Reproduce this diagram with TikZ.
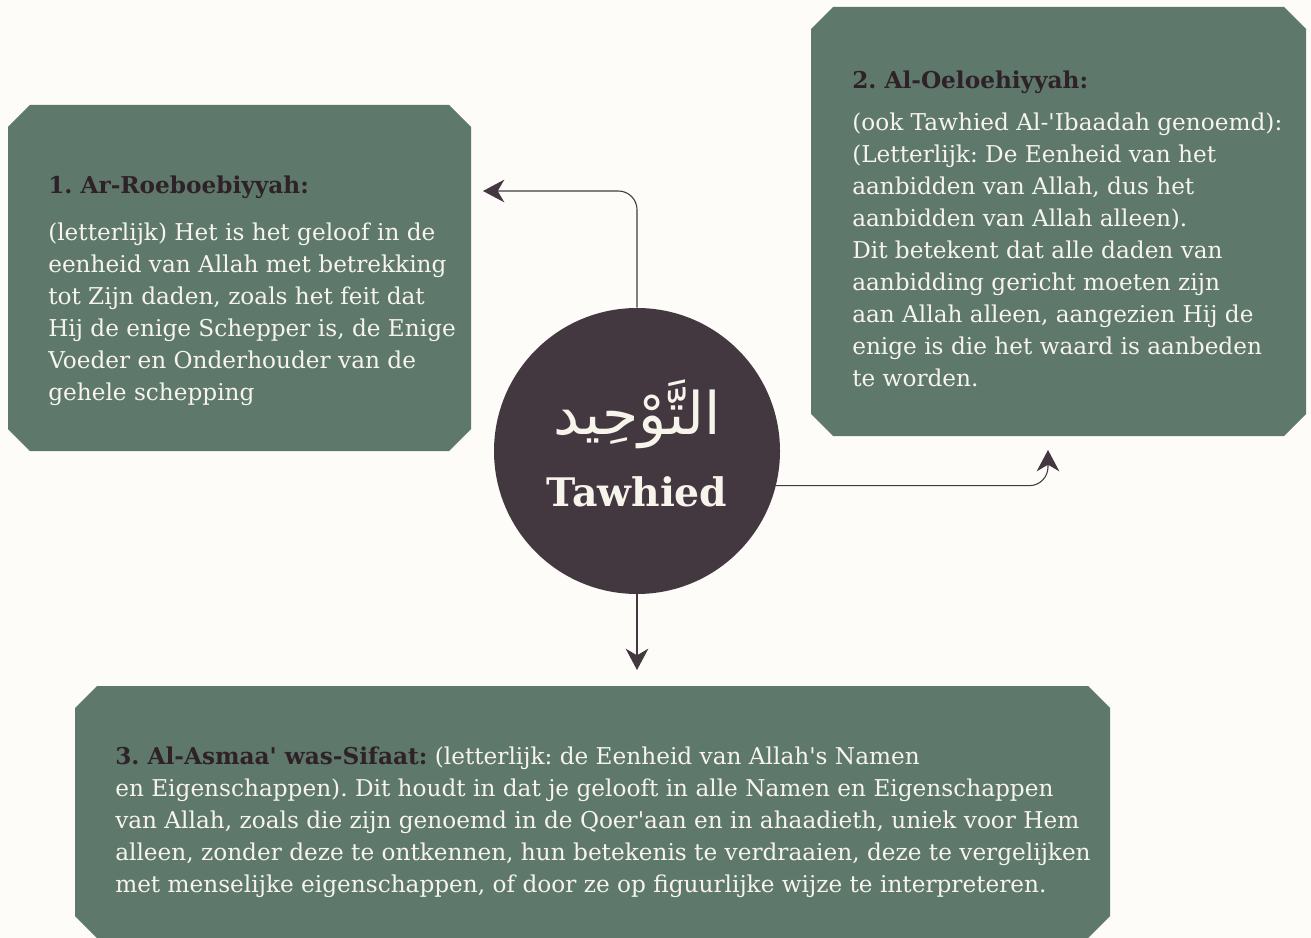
\documentclass[tikz,border=0pt]{standalone}
\usepackage{fontspec}
\usepackage{tikz}
\usetikzlibrary{arrows.meta}
\newfontfamily\boxfont{DejaVu Serif}
\newfontfamily\arabicfont[Script=Arabic]{DejaVu Sans}
\TeXXeTstate=1
\definecolor{paper}{HTML}{FDFCF8}
\definecolor{sage}{HTML}{5E786B}
\definecolor{plum}{HTML}{433840}
\definecolor{inkdark}{HTML}{2E2228}
\definecolor{chalk}{HTML}{F7F4EC}
\tikzset{panel/.style={fill=sage,draw=none}}
\tikzset{bodytext/.style={anchor=north west,inner sep=0pt,align=left,text=chalk,font=\boxfont\fontsize{17.4}{24}\selectfont}}
\tikzset{link/.style={draw=plum,line width=0.8pt,rounded corners=14pt,-{Stealth[length=16pt,width=17pt,inset=5pt]}}}
\newcommand{\hd}[1]{{\bfseries\color{inkdark}#1}}
% chamfered panel: left, top, right, bottom (px)
\newcommand{\chamferbox}[4]{%
  \fill[panel] ({#1+22},#2) -- ({#3-22},#2) -- (#3,{#2+22}) -- (#3,{#4-22})
    -- ({#3-22},#4) -- ({#1+22},#4) -- (#1,{#4-22}) -- (#1,{#2+22}) -- cycle;}

\begin{document}
\frenchspacing
\begin{tikzpicture}[x=0.75pt,y=-0.75pt]
  \fill[paper] (0,0) rectangle (1311,938);
  \useasboundingbox (0,0) rectangle (1311,938);
  % the three panels
  \chamferbox{8}{105}{471}{451}
  \chamferbox{811}{7}{1306}{436}
  \chamferbox{75}{686}{1110}{938}
  % centre
  \node[circle,fill=plum,minimum size={286*0.75pt},inner sep=0pt] (tawhied) at (637,451) {};
  \node[text=chalk,font=\arabicfont\fontsize{44}{44}\selectfont] (arab) at (637,414) {\beginR التَّوْحِيد\endR};
  \node[text=chalk,font=\boxfont\bfseries\fontsize{29.5}{30}\selectfont] (latin) at (637,492) {Tawhied};
  % texts
  \node[bodytext] (rub-txt) at (48,176) {\hd{1. Ar-Roeboebiyyah:}\\[11pt]
    (letterlijk) Het is het geloof in de\\
    eenheid van Allah met betrekking\\
    tot Zijn daden, zoals het feit dat\\
    Hij de enige Schepper is, de Enige\\
    Voeder en Onderhouder van de\\
    gehele schepping};
  \node[bodytext] (ulu-txt) at (852,71) {\hd{2. Al-Oeloehiyyah:}\\[7pt]
    (ook Tawhied Al-'Ibaadah genoemd):\\
    (Letterlijk: De Eenheid van het\\
    aanbidden van Allah, dus het\\
    aanbidden van Allah alleen).\\
    Dit betekent dat alle daden van\\
    aanbidding gericht moeten zijn\\
    aan Allah alleen, aangezien Hij de\\
    enige is die het waard is aanbeden\\
    te worden.};
  \node[bodytext] (asma-txt) at (115,747) {\hd{3. Al-Asmaa' was-Sifaat:} (letterlijk: de Eenheid van Allah's Namen\\
    en Eigenschappen). Dit houdt in dat je gelooft in alle Namen en Eigenschappen\\
    van Allah, zoals die zijn genoemd in de Qoer'aan en in ahaadieth, uniek voor Hem\\
    alleen, zonder deze te ontkennen, hun betekenis te verdraaien, deze te vergelijken\\
    met menselijke eigenschappen, of door ze op figuurlijke wijze te interpreteren.};
  % connectors
  \coordinate (to-rub) at (483,191);
  \coordinate (to-ulu) at (1048,450);
  \coordinate (to-asma) at (637,670);
  \draw[link] (tawhied.north) |- (to-rub);
  \draw[link] (tawhied.-14) -| (to-ulu);
  \draw[link] (tawhied.south) -- (to-asma);
\end{tikzpicture}
\end{document}
